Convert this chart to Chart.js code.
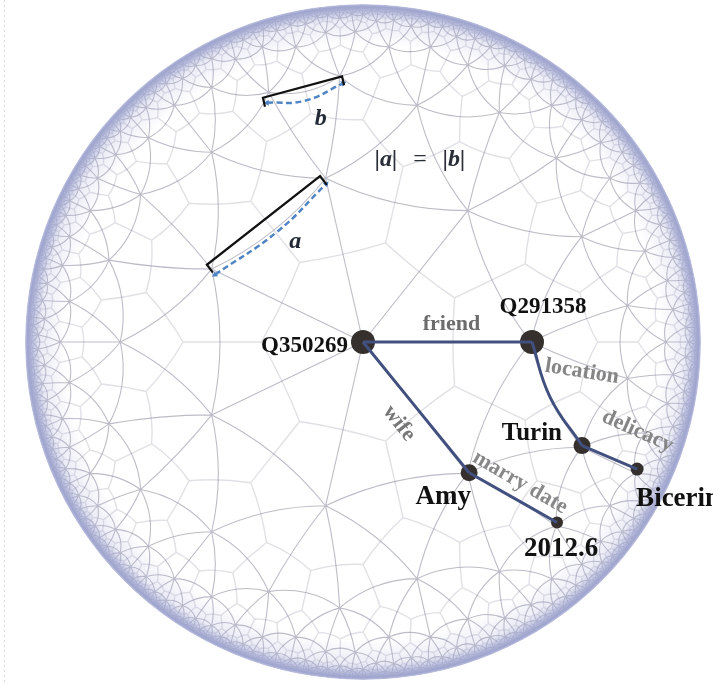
<!DOCTYPE html>
<html>
<head>
<meta charset="utf-8">
<script src="https://cdn.jsdelivr.net/npm/chart.js@4.4.0/dist/chart.umd.min.js"></script>
<style>
  html, body { margin: 0; padding: 0; background: #fff; }
  #wrap { width: 713px; height: 684px; position: relative; }
</style>
</head>
<body>
<div id="wrap"><canvas id="c"></canvas></div>
<script>
// Knowledge-graph nodes, in Poincaré-disk coordinates (disk radius = 1)
const nodeNames = ['Q350269', 'Q291358', 'Amy', 'Turin', 'Bicerin', '2012.6'];
const nodeX = [0.000, 0.500, 0.314, 0.648, 0.811, 0.574];
const nodeY = [0.000, 0.000, -0.396, -0.314, -0.385, -0.547];

// Relations (edges) between nodes
const relNames = ['friend', 'wife', 'location', 'delicacy', 'marry date'];
const relFrom  = [0, 0, 1, 3, 2];
const relTo    = [1, 2, 3, 4, 5];
const relBendX = [null, null, 0.553, null, null];
const relBendY = [null, null, -0.166, null, null];

// |a| = |b| illustration: black brackets and dashed geodesic arcs
const bracketAX = [-0.444, -0.462, -0.127, -0.107];
const bracketAY = [0.210, 0.234, 0.503, 0.476];
const arcAX = [-0.438, -0.254, -0.109];
const arcAY = [0.204, 0.334, 0.479];
const bracketBX = [-0.290, -0.296, -0.062, -0.056];
const bracketBY = [0.713, 0.740, 0.805, 0.778];
const arcBX = [-0.284, -0.172, -0.059];
const arcBY = [0.725, 0.731, 0.784];

// ---- styles ----
const SERIF = '"Liberation Serif", "Times New Roman", serif';
const EDGE_COLOUR = '#42507f';
const NODE_COLOUR = '#35302d';
const NODE_RADIUS = { Q350269: 12, Q291358: 12, Amy: 8.5, Turin: 8.5, Bicerin: 6.5, '2012.6': 6 };
const NODE_LABEL = {
  Q350269: { dx: -15, dy: 10, align: 'right', size: 23 },
  Q291358: { dx: 11, dy: -29, align: 'center', size: 23 },
  Amy:     { dx: -26, dy: 31, align: 'center', size: 27 },
  Turin:   { dx: -20, dy: -6, align: 'right', size: 25 },
  Bicerin: { dx: -1, dy: 37, align: 'left', size: 27 },
  '2012.6':{ dx: 4, dy: 33, align: 'center', size: 27 },
};
const REL_LABEL = {
  friend:       { dx: 4, dy: -18, rot: 0, colour: '#6c6c6c' },
  wife:         { dx: -17, dy: 16, rot: 52, colour: '#777777' },
  location:     { dx: 25, dy: -22, rot: 9, colour: '#858585' },
  delicacy:     { dx: 28, dy: -26, rot: 24, colour: '#858585' },
  'marry date': { dx: 7, dy: -15, rot: 30, colour: '#888888' },
};

const pts = (xs, ys) => xs.map((x, i) => ({ x, y: ys[i] }));

// ---- hyperbolic helpers (background {3,7} tiling) ----
function geodesic(p, q) {
  const det = p[0] * q[1] - p[1] * q[0];
  if (Math.abs(det) < 1e-9) return null;
  const a = (p[0] * p[0] + p[1] * p[1] + 1) / 2;
  const b = (q[0] * q[0] + q[1] * q[1] + 1) / 2;
  const cx = (a * q[1] - b * p[1]) / det;
  const cy = (p[0] * b - q[0] * a) / det;
  return { cx, cy, r2: cx * cx + cy * cy - 1 };
}
function reflect(z, p, q) {
  const g = geodesic(p, q);
  if (!g) {
    const d = Math.hypot(p[0], p[1]) > Math.hypot(q[0], q[1]) ? p : q;
    const n = Math.hypot(d[0], d[1]);
    const ux = d[0] / n, uy = d[1] / n;
    const dot = z[0] * ux + z[1] * uy;
    return [2 * dot * ux - z[0], 2 * dot * uy - z[1]];
  }
  const dx = z[0] - g.cx, dy = z[1] - g.cy;
  const k = g.r2 / (dx * dx + dy * dy);
  return [g.cx + k * dx, g.cy + k * dy];
}

function buildTiling(R) {
  const side = 2 * Math.acosh(Math.cos(Math.PI / 3) / Math.sin(Math.PI / 7));
  const rv = Math.tanh(side / 2);
  const rc = Math.tanh(Math.acosh(1 / (Math.tan(Math.PI / 3) * Math.tan(Math.PI / 7))) / 2);
  const t = 2 * Math.PI / 7;
  const first = {
    v: [[0, 0], [rv, 0], [rv * Math.cos(t), rv * Math.sin(t)]],
    c: [rc * Math.cos(t / 2), rc * Math.sin(t / 2)],
  };
  const key = z => Math.round(z[0] * 2e4) + ',' + Math.round(z[1] * 2e4);
  const seen = new Set([key(first.c)]);
  const queue = [first];
  const edges = [], duals = [];
  const edgeSeen = new Set();
  for (let qi = 0; qi < queue.length && queue.length < 60000; qi++) {
    const tri = queue[qi];
    for (let i = 0; i < 3; i++) {
      const p = tri.v[i], q = tri.v[(i + 1) % 3], o = tri.v[(i + 2) % 3];
      const ek = key([(p[0] + q[0]) / 2, (p[1] + q[1]) / 2]);
      const nc = reflect(tri.c, p, q);
      if (!edgeSeen.has(ek)) {
        edgeSeen.add(ek);
        edges.push([p, q]);
        duals.push([tri.c, nc]);
      }
      if (Math.hypot(p[0] - q[0], p[1] - q[1]) * R < 3) continue;
      const nk = key(nc);
      if (seen.has(nk)) continue;
      seen.add(nk);
      queue.push({ v: [p, q, reflect(o, p, q)], c: nc });
    }
  }
  return { edges, duals };
}

function pathGeo(ctx, p, q, toPx, R) {
  const P = toPx(p), Q = toPx(q);
  const g = geodesic(p, q);
  ctx.moveTo(P[0], P[1]);
  if (!g || g.r2 * R * R > 1e10) { ctx.lineTo(Q[0], Q[1]); return; }
  const C = toPx([g.cx, g.cy]);
  const rad = Math.sqrt(g.r2) * R;
  const a1 = Math.atan2(P[1] - C[1], P[0] - C[0]);
  let d = Math.atan2(Q[1] - C[1], Q[0] - C[0]) - a1;
  if (d > Math.PI) d -= 2 * Math.PI;
  if (d < -Math.PI) d += 2 * Math.PI;
  ctx.arc(C[0], C[1], rad, a1, a1 + d, d < 0);
}

// Disk background: tiling + bluish rim
const diskPlugin = {
  id: 'poincareDisk',
  beforeDatasetsDraw(chart) {
    const { ctx, scales: { x, y } } = chart;
    const ox = x.getPixelForValue(0), oy = y.getPixelForValue(0);
    const R = x.getPixelForValue(1) - ox;
    const toPx = z => [ox + z[0] * R, oy - z[1] * R];
    const { edges, duals } = buildTiling(R);

    ctx.save();
    // faint dotted page border on the left
    ctx.strokeStyle = '#dcdcdc';
    ctx.lineWidth = 1;
    ctx.setLineDash([2, 3]);
    ctx.beginPath();
    ctx.moveTo(4.5, 0);
    ctx.lineTo(4.5, chart.height);
    ctx.stroke();
    ctx.setLineDash([]);

    ctx.beginPath();
    ctx.arc(ox, oy, R, 0, 2 * Math.PI);
    ctx.clip();

    ctx.beginPath();
    duals.forEach(([p, q]) => pathGeo(ctx, p, q, toPx, R));
    ctx.strokeStyle = 'rgba(180,180,195,0.42)';
    ctx.lineWidth = 1.4;
    ctx.stroke();

    ctx.beginPath();
    edges.forEach(([p, q]) => pathGeo(ctx, p, q, toPx, R));
    ctx.strokeStyle = 'rgba(140,140,158,0.58)';
    ctx.lineWidth = 1.1;
    ctx.stroke();

    const g = ctx.createRadialGradient(ox, oy, R * 0.88, ox, oy, R);
    g.addColorStop(0, 'rgba(175,180,218,0)');
    g.addColorStop(0.6, 'rgba(175,180,218,0.25)');
    g.addColorStop(0.82, 'rgba(165,170,212,0.72)');
    g.addColorStop(0.94, 'rgba(158,164,207,0.95)');
    g.addColorStop(1, 'rgba(185,190,222,0.9)');
    ctx.fillStyle = g;
    ctx.beginPath();
    ctx.arc(ox, oy, R, 0, 2 * Math.PI);
    ctx.fill();
    ctx.restore();
  },
  afterDatasetsDraw(chart) {
    const { ctx, scales: { x, y } } = chart;
    const px = (ux, uy) => [x.getPixelForValue(ux), y.getPixelForValue(uy)];

    const text = (str, cx, cy, font, colour, align, baseline, rot) => {
      ctx.save();
      ctx.translate(cx, cy);
      if (rot) ctx.rotate(rot * Math.PI / 180);
      ctx.font = font;
      ctx.fillStyle = colour;
      ctx.textAlign = align;
      ctx.textBaseline = baseline;
      ctx.fillText(str, 0, 0);
      ctx.restore();
    };

    // relation labels
    relNames.forEach((name, i) => {
      const s = REL_LABEL[name];
      const a = px(nodeX[relFrom[i]], nodeY[relFrom[i]]);
      const b = px(nodeX[relTo[i]], nodeY[relTo[i]]);
      text(name, (a[0] + b[0]) / 2 + s.dx, (a[1] + b[1]) / 2 + s.dy,
        `bold 22px ${SERIF}`, s.colour, 'center', 'middle', s.rot);
    });

    // node labels
    nodeNames.forEach((name, i) => {
      const s = NODE_LABEL[name];
      const p = px(nodeX[i], nodeY[i]);
      text(name, p[0] + s.dx, p[1] + s.dy, `bold ${s.size}px ${SERIF}`, '#111111', s.align, 'alphabetic', 0);
    });

    // |a| = |b| labels
    const ma = px(arcAX[1], arcAY[1]);
    const mb = px(arcBX[1], arcBY[1]);
    const ta = px(bracketAX[2], bracketAY[2]);
    const f = `bold italic 24px ${SERIF}`;
    text('a', ma[0] + 18, ma[1] + 10, f, '#222a36', 'center', 'middle', 0);
    text('b', mb[0] + 16, mb[1] + 18, f, '#222a36', 'center', 'middle', 0);
    text('|a|', ta[0] + 66, ta[1] - 16, f, '#2a2e36', 'center', 'middle', 0);
    text('=', ta[0] + 100, ta[1] - 16, `24px ${SERIF}`, '#2a2e36', 'center', 'middle', 0);
    text('|b|', ta[0] + 134, ta[1] - 16, f, '#2a2e36', 'center', 'middle', 0);
  },
};

const relDatasets = relNames.map((name, i) => {
  const a = relFrom[i], b = relTo[i];
  const xs = [nodeX[a]], ys = [nodeY[a]];
  if (relBendX[i] !== null) { xs.push(relBendX[i]); ys.push(relBendY[i]); }
  xs.push(nodeX[b]); ys.push(nodeY[b]);
  return {
    label: name,
    data: pts(xs, ys),
    showLine: true,
    borderColor: EDGE_COLOUR,
    borderWidth: 3,
    pointRadius: 0,
    tension: 0.45,
  };
});

const datasets = [
  ...relDatasets,
  {
    label: 'nodes',
    data: pts(nodeX, nodeY),
    pointRadius: nodeNames.map(n => NODE_RADIUS[n]),
    pointBackgroundColor: NODE_COLOUR,
    pointBorderWidth: 0,
  },
  {
    label: 'bracket a',
    data: pts(bracketAX, bracketAY),
    showLine: true, borderColor: '#111111', borderWidth: 2.2, pointRadius: 0, tension: 0,
  },
  {
    label: 'bracket b',
    data: pts(bracketBX, bracketBY),
    showLine: true, borderColor: '#111111', borderWidth: 2.2, pointRadius: 0, tension: 0,
  },
  {
    label: 'arc a',
    data: pts(arcAX, arcAY),
    showLine: true, borderColor: '#4f84c4', borderWidth: 2.5, borderDash: [6, 3.5], tension: 0.45,
    pointRadius: [3.5, 0, 3.5], pointStyle: 'triangle', pointRotation: [235, 0, 45],
    pointBackgroundColor: '#4f84c4', pointBorderWidth: 0,
  },
  {
    label: 'arc b',
    data: pts(arcBX, arcBY),
    showLine: true, borderColor: '#4f84c4', borderWidth: 2.5, borderDash: [6, 3.5], tension: 0.45,
    pointRadius: [3.5, 0, 3.5], pointStyle: 'triangle', pointRotation: [267, 0, 65],
    pointBackgroundColor: '#4f84c4', pointBorderWidth: 0,
  },
];

new Chart(document.getElementById('c'), {
  type: 'scatter',
  data: { datasets },
  options: {
    responsive: true,
    maintainAspectRatio: false,
    animation: false,
    clip: false,
    layout: { padding: { left: 25, right: 12, top: 8, bottom: 0 } },
    plugins: { legend: { display: false }, tooltip: { enabled: false } },
    scales: {
      x: { type: 'linear', min: -1, max: 1, display: false },
      y: { type: 'linear', min: -1, max: 1, display: false },
    },
  },
  plugins: [diskPlugin],
});
</script>
</body>
</html>
